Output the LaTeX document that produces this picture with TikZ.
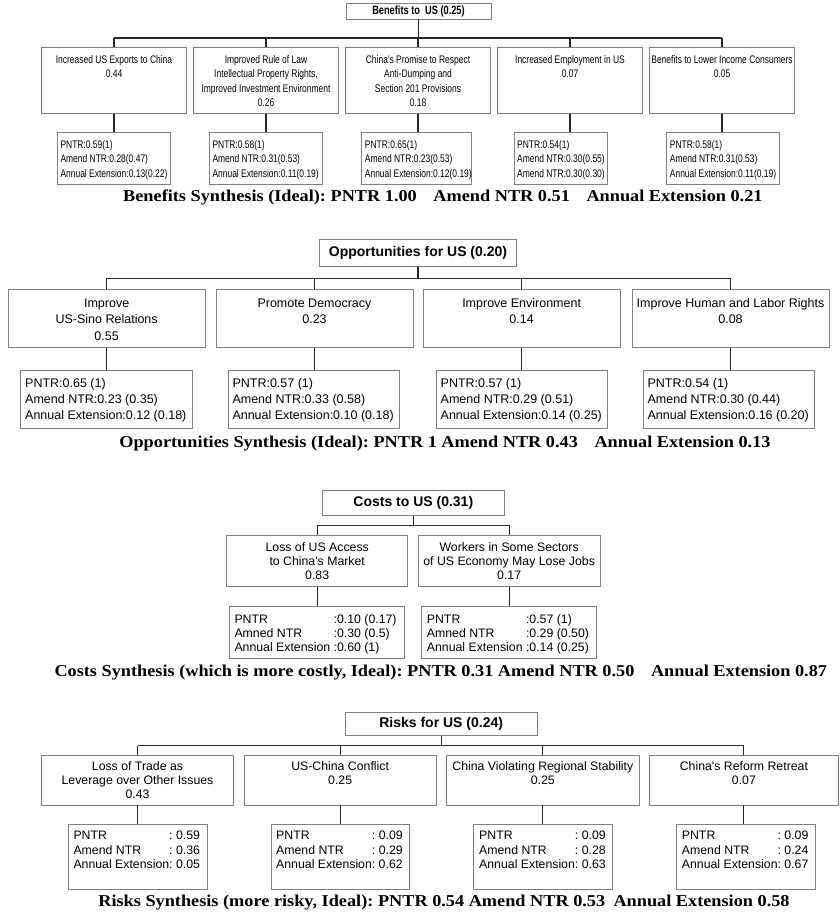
\documentclass[tikz,border=0pt]{standalone}
\usepackage{fontspec}
\setmainfont{Liberation Serif}
\newfontfamily\arial{Liberation Sans}
\newfontfamily\arialn[FakeStretch=0.77]{Liberation Sans}
\newfontfamily\synfont[FakeStretch=1.1]{Liberation Serif}
\definecolor{boxgray}{RGB}{128,128,128}
\definecolor{wiregray}{RGB}{40,40,40}
\frenchspacing
\tikzset{
  box/.style={draw=boxgray, line width=0.9pt, rectangle, inner sep=0},
  wire/.style={draw=wiregray, line width=1.1pt},
  btext/.style={font=\arialn\fontsize{11}{14.5}\selectfont, inner sep=0, anchor=base},
  bval/.style={font=\arialn\fontsize{11}{14.5}\selectfont, inner sep=0, anchor=base west},
  btop/.style={font=\arialn\bfseries\fontsize{12}{14}\selectfont},
  otext/.style={font=\arial\fontsize{12.5}{16.4}\selectfont, inner sep=0, anchor=base},
  oval/.style={font=\arial\fontsize{12.5}{16.2}\selectfont, inner sep=0, anchor=base west},
  ctext/.style={font=\arial\fontsize{12.3}{14.2}\selectfont, inner sep=0, anchor=base},
  cval/.style={font=\arial\fontsize{12.3}{14.3}\selectfont, inner sep=0, anchor=base west},
  rtext/.style={font=\arial\fontsize{12.3}{14}\selectfont, inner sep=0, anchor=base},
  rval/.style={font=\arial\fontsize{12.3}{14.6}\selectfont, inner sep=0, anchor=base west},
  toptitle/.style={font=\arial\bfseries\fontsize{14}{16}\selectfont},
  synth/.style={font=\synfont\bfseries\fontsize{16.6}{20}\selectfont, inner sep=0, anchor=base},
}
\begin{document}
\begin{tikzpicture}[x=1pt,y=-1pt]
\useasboundingbox (0,0) rectangle (839,916);

% ---------------- Benefits ----------------
\node[box, btop, minimum width=145, minimum height=16] (BT) at (418.5,11) {Benefits to\ \ US (0.25)};
\foreach \n/\cx in {1/114,2/266,3/418,4/570,5/722}
  \node[box, minimum width=145.7, minimum height=66] (bc\n) at (\cx,80.5) {};
\node[box, minimum width=112.7, minimum height=51.3] (bv1) at (113.65,158.35) {};
\node[box, minimum width=113,   minimum height=51.3] (bv2) at (265.8,158.35) {};
\node[box, minimum width=110,   minimum height=51.3] (bv3) at (416.7,158.35) {};
\node[box, minimum width=93.7,  minimum height=51.3] (bv4) at (560.85,158.35) {};
\node[box, minimum width=112.3, minimum height=51.3] (bv5) at (722.85,158.35) {};
\coordinate (bbus) at (0,38);
\draw[wire] (BT.south) -- (BT.south |- bbus);
\draw[wire] (bc1.north |- bbus) -- (bc5.north |- bbus);
\foreach \n in {1,...,5} {
  \draw[wire] (bc\n.north) -- (bc\n.north |- bbus);
  \draw[wire] (bc\n.south) -- (bc\n.south |- bv\n.north);
}
\node[btext] (bt1) at (114,63.3) {\begin{tabular}[t]{@{}c@{}}Increased US Exports to China\\0.44\end{tabular}};
\node[btext] (bt2) at (266,63.3) {\begin{tabular}[t]{@{}c@{}}Improved Rule of Law\\Intellectual Property Rights,\\Improved Investment Environment\\0.26\end{tabular}};
\node[btext] (bt3) at (418,63.3) {\begin{tabular}[t]{@{}c@{}}China's Promise to Respect\\Anti-Dumping and\\Section 201 Provisions\\0.18\end{tabular}};
\node[btext] (bt4) at (570,63.3) {\begin{tabular}[t]{@{}c@{}}Increased Employment in US\\0.07\end{tabular}};
\node[btext] (bt5) at (722,63.3) {\begin{tabular}[t]{@{}c@{}}Benefits to Lower Income Consumers\\0.05\end{tabular}};
\node[bval] (bw1) at (60.3,148) {\begin{tabular}[t]{@{}l@{}}PNTR:0.59(1)\\Amend NTR:0.28(0.47)\\Annual Extension:0.13(0.22)\end{tabular}};
\node[bval] (bw2) at (212.3,148) {\begin{tabular}[t]{@{}l@{}}PNTR:0.58(1)\\Amend NTR:0.31(0.53)\\Annual Extension:0.11(0.19)\end{tabular}};
\node[bval] (bw3) at (364.7,148) {\begin{tabular}[t]{@{}l@{}}PNTR:0.65(1)\\Amend NTR:0.23(0.53)\\Annual Extension:0.12(0.19)\end{tabular}};
\node[bval] (bw4) at (517,148) {\begin{tabular}[t]{@{}l@{}}PNTR:0.54(1)\\Amend NTR:0.30(0.55)\\Amend NTR:0.30(0.30)\end{tabular}};
\node[bval] (bw5) at (669.7,148) {\begin{tabular}[t]{@{}l@{}}PNTR:0.58(1)\\Amend NTR:0.31(0.53)\\Annual Extension:0.11(0.19)\end{tabular}};
\node[synth] (bsyn) at (442.9,201.7) {Benefits Synthesis (Ideal): PNTR 1.00\quad Amend NTR 0.51\quad Annual Extension 0.21};

% ---------------- Opportunities ----------------
\node[box, toptitle, minimum width=197.4, minimum height=27.4] (OT) at (418,253) {Opportunities for US (0.20)};
\foreach \n/\cx in {1/106.65,2/314.5,3/521.65,4/730.5}
  \node[box, minimum width=197, minimum height=58] (oc\n) at (\cx,318.3) {};
\foreach \n/\cx in {1/106.5,2/313.8,3/522,4/728.9}
  \node[box, minimum width=171.5, minimum height=58] (ov\n) at (\cx,399) {};
\coordinate (obus) at (0,278.3);
\draw[wire] (OT.south) -- (OT.south |- obus);
\draw[wire] (oc1.north |- obus) -- (oc4.north |- obus);
\foreach \n in {1,...,4} {
  \draw[wire] (oc\n.north) -- (oc\n.north |- obus);
  \draw[wire] (oc\n.south) -- (oc\n.south |- ov\n.north);
}
\node[otext] (ot1) at (106.65,307.2) {\begin{tabular}[t]{@{}c@{}}Improve\\US-Sino Relations\\0.55\end{tabular}};
\node[otext] (ot2) at (314.5,307.2) {\begin{tabular}[t]{@{}c@{}}Promote Democracy\\0.23\end{tabular}};
\node[otext] (ot3) at (521.65,307.2) {\begin{tabular}[t]{@{}c@{}}Improve Environment\\0.14\end{tabular}};
\node[otext] (ot4) at (730.5,307.2) {\begin{tabular}[t]{@{}c@{}}Improve Human and Labor Rights\\0.08\end{tabular}};
\node[oval] (ow1) at (25,387.5) {\begin{tabular}[t]{@{}l@{}}PNTR:0.65 (1)\\Amend NTR:0.23 (0.35)\\Annual Extension:0.12 (0.18)\end{tabular}};
\node[oval] (ow2) at (232.3,387.5) {\begin{tabular}[t]{@{}l@{}}PNTR:0.57 (1)\\Amend NTR:0.33 (0.58)\\Annual Extension:0.10 (0.18)\end{tabular}};
\node[oval] (ow3) at (440.5,387.5) {\begin{tabular}[t]{@{}l@{}}PNTR:0.57 (1)\\Amend NTR:0.29 (0.51)\\Annual Extension:0.14 (0.25)\end{tabular}};
\node[oval] (ow4) at (647.4,387.5) {\begin{tabular}[t]{@{}l@{}}PNTR:0.54 (1)\\Amend NTR:0.30 (0.44)\\Annual Extension:0.16 (0.20)\end{tabular}};
\node[synth] (osyn) at (445,447) {Opportunities Synthesis (Ideal): PNTR 1 Amend NTR 0.43\quad Annual Extension 0.13};

% ---------------- Costs ----------------
\node[box, toptitle, minimum width=181.3, minimum height=25] (CT) at (413.3,503.2) {Costs to US (0.31)};
\node[box, minimum width=181,   minimum height=51] (cc1) at (317.2,561.2) {};
\node[box, minimum width=181.7, minimum height=51] (cc2) at (509.15,561.2) {};
\node[box, minimum width=175, minimum height=52] (cv1) at (316.8,632.7) {};
\node[box, minimum width=175, minimum height=52] (cv2) at (509.2,632.7) {};
\coordinate (cbus) at (0,525.3);
\draw[wire] (CT.south) -- (CT.south |- cbus);
\draw[wire] (cc1.north |- cbus) -- (cc2.north |- cbus);
\foreach \n in {1,2} {
  \draw[wire] (cc\n.north) -- (cc\n.north |- cbus);
  \draw[wire] (cc\n.south) -- (cc\n.south |- cv\n.north);
}
\node[ctext] (ct1) at (317.2,551.4) {\begin{tabular}[t]{@{}c@{}}Loss of US Access\\to China's Market\\0.83\end{tabular}};
\node[ctext] (ct2) at (509.15,551.4) {\begin{tabular}[t]{@{}c@{}}Workers in Some Sectors\\of US Economy May Lose Jobs\\0.17\end{tabular}};
\node[cval] (cw1) at (234.3,623.1) {\begin{tabular}[t]{@{}l@{}l@{}}PNTR & :0.10 (0.17)\\Amned NTR & :0.30 (0.5)\\Annual Extension\ \mbox{} & :0.60 (1)\end{tabular}};
\node[cval] (cw2) at (426.7,623.1) {\begin{tabular}[t]{@{}l@{}l@{}}PNTR & :0.57 (1)\\Amned NTR & :0.29 (0.50)\\Annual Extension\ \mbox{} & :0.14 (0.25)\end{tabular}};
\node[synth] (csyn) at (440.8,676) {Costs Synthesis (which is more costly, Ideal): PNTR 0.31 Amend NTR 0.50\quad Annual Extension 0.87};

% ---------------- Risks ----------------
\node[box, toptitle, minimum width=192.3, minimum height=23] (RT) at (441.2,724.2) {Risks for US (0.24)};
\node[box, minimum width=191.6, minimum height=50] (rc1) at (137.5,780) {};
\node[box, minimum width=191.6, minimum height=50] (rc2) at (340.15,780) {};
\node[box, minimum width=192.3, minimum height=50] (rc3) at (542.85,780) {};
\node[box, minimum width=189.2, minimum height=50] (rc4) at (743.9,780) {};
\foreach \n/\cx in {1/137.8,2/340.5,3/543.15,4/745.85}
  \node[box, minimum width=138.7, minimum height=64.7] (rv\n) at (\cx,856.65) {};
\coordinate (rbus) at (0,745.7);
\draw[wire] (RT.south) -- (RT.south |- rbus);
\draw[wire] (rc1.north |- rbus) -- (rc4.north |- rbus);
\foreach \n in {1,...,4} {
  \draw[wire] (rc\n.north) -- (rc\n.north |- rbus);
  \draw[wire] (rc\n.south) -- (rc\n.south |- rv\n.north);
}
\node[rtext] (rt1) at (137.5,770.4) {\begin{tabular}[t]{@{}c@{}}Loss of Trade as\\Leverage over Other Issues\\0.43\end{tabular}};
\node[rtext] (rt2) at (340.15,770.4) {\begin{tabular}[t]{@{}c@{}}US-China Conflict\\0.25\end{tabular}};
\node[rtext] (rt3) at (542.85,770.4) {\begin{tabular}[t]{@{}c@{}}China Violating Regional Stability\\0.25\end{tabular}};
\node[rtext] (rt4) at (743.9,770.4) {\begin{tabular}[t]{@{}c@{}}China's Reform Retreat\\0.07\end{tabular}};
\node[rval] (rw1) at (73.3,839.4) {\begin{tabular}[t]{@{}l@{}l@{}}PNTR & : 0.59\\Amend NTR & : 0.36\\Annual Extension & : 0.05\end{tabular}};
\node[rval] (rw2) at (276,839.4) {\begin{tabular}[t]{@{}l@{}l@{}}PNTR & : 0.09\\Amend NTR & : 0.29\\Annual Extension & : 0.62\end{tabular}};
\node[rval] (rw3) at (479,839.4) {\begin{tabular}[t]{@{}l@{}l@{}}PNTR & : 0.09\\Amend NTR & : 0.28\\Annual Extension & : 0.63\end{tabular}};
\node[rval] (rw4) at (681.7,839.4) {\begin{tabular}[t]{@{}l@{}l@{}}PNTR & : 0.09\\Amend NTR & : 0.24\\Annual Extension & : 0.67\end{tabular}};
\node[synth] (rsyn) at (444,906.5) {Risks Synthesis (more risky, Ideal): PNTR 0.54 Amend NTR 0.53\enspace Annual Extension 0.58};
\end{tikzpicture}
\end{document}
